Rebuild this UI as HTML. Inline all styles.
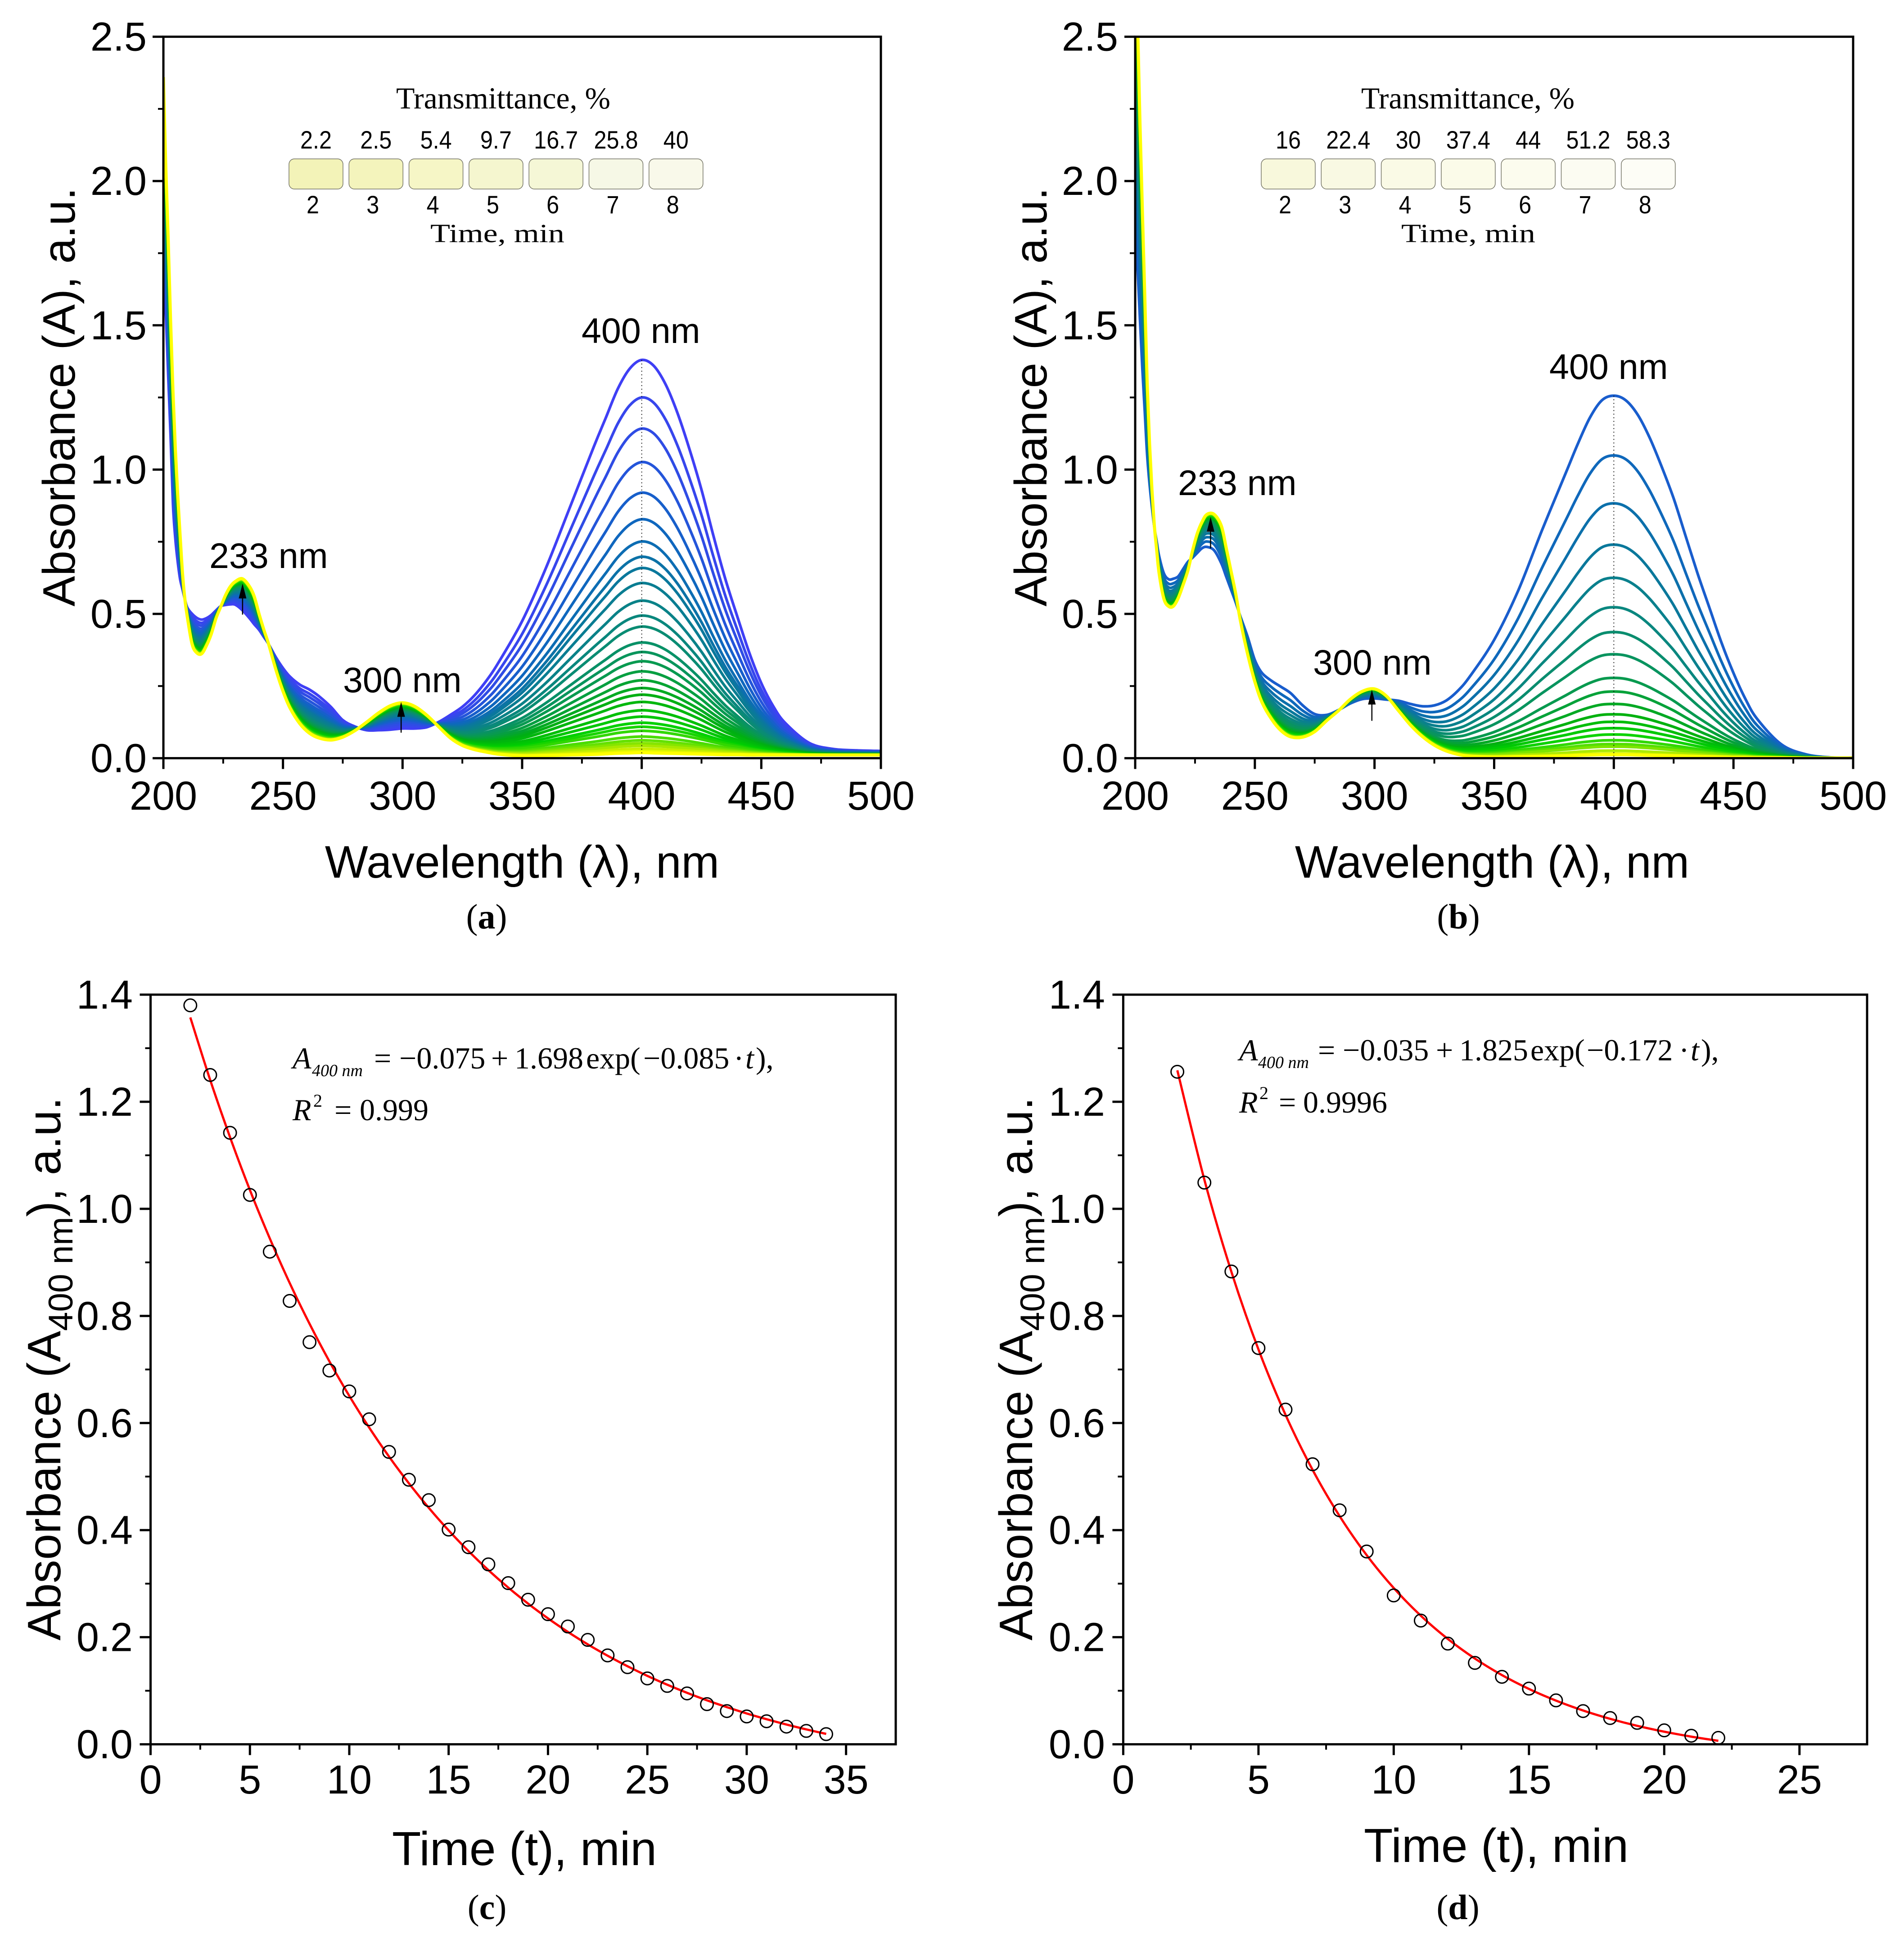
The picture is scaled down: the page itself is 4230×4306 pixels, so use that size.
<!DOCTYPE html>
<html lang="en">
<head>
<meta charset="utf-8">
<title>Absorbance spectra and kinetics</title>
<style>
html,body{margin:0;padding:0;background:#fff;}
svg{display:block;}
text{fill:#000;font-family:"Liberation Sans",Arial,sans-serif;}
.serif{font-family:"Liberation Serif","Times New Roman",serif;}
.tick{font-size:90px;}
.axt{font-size:101.5px;}
.axk{font-size:105.5px;}
.ann{font-size:79px;}
.eq{font-size:68px;font-family:"Liberation Serif","Times New Roman",serif;}
.sub{font-size:38px;}
.cap{font-size:78px;font-family:"Liberation Serif","Times New Roman",serif;}
</style>
</head>
<body>
<svg id="fig" xmlns="http://www.w3.org/2000/svg" width="4230" height="4306" viewBox="0 0 4230 4306">
<rect x="0" y="0" width="4230" height="4306" fill="#fff"/>
<defs>
<clipPath id="clip-a"><rect x="363" y="81" width="1594" height="1604"/></clipPath>
<clipPath id="clip-b"><rect x="2522" y="81" width="1595" height="1604"/></clipPath>
</defs>
<g id="panel-a"></g>
<g id="panel-b"></g>
<g id="panel-c"></g>
<g id="panel-d"></g>

<!-- Panel a text -->
<text class="axt" transform="translate(166,882) rotate(-90)" text-anchor="middle">Absorbance (A), a.u.</text>
<text class="axt" x="1160" y="1950" text-anchor="middle">Wavelength (λ), nm</text>
<text class="ann" x="465" y="1262">233 nm</text>
<text class="ann" x="762" y="1538">300 nm</text>
<text class="ann" x="1292" y="762">400 nm</text>
<text class="serif" font-size="68" x="880" y="241" textLength="476" lengthAdjust="spacingAndGlyphs">Transmittance, %</text>
<text class="serif" font-size="58" x="956" y="538" textLength="298" lengthAdjust="spacingAndGlyphs">Time, min</text>
<text class="cap" x="1081" y="2063" text-anchor="middle">(<tspan font-weight="bold">a</tspan>)</text>

<!-- Panel b text -->
<text class="axt" transform="translate(2325,882) rotate(-90)" text-anchor="middle">Absorbance (A), a.u.</text>
<text class="axt" x="3315" y="1950" text-anchor="middle">Wavelength (λ), nm</text>
<text class="ann" x="2617" y="1100">233 nm</text>
<text class="ann" x="2917" y="1499">300 nm</text>
<text class="ann" x="3442" y="842">400 nm</text>
<text class="serif" font-size="68" x="3024" y="241" textLength="474" lengthAdjust="spacingAndGlyphs">Transmittance, %</text>
<text class="serif" font-size="58" x="3113" y="538" textLength="298" lengthAdjust="spacingAndGlyphs">Time, min</text>
<text class="cap" x="3240" y="2063" text-anchor="middle">(<tspan font-weight="bold">b</tspan>)</text>

<!-- Panel c text -->
<text transform="translate(134,3645) rotate(-90)" font-size="104">Absorbance (A<tspan font-size="76" dy="27">400 nm</tspan><tspan dy="-27">), a.u.</tspan></text>
<text class="axk" x="1165" y="4144" text-anchor="middle">Time (t), min</text>
<text class="eq" y="2374"><tspan x="650" font-style="italic">A</tspan><tspan x="693" y="2391" class="sub" font-style="italic">400 nm</tspan><tspan x="831" y="2374">=</tspan><tspan x="887">−0.075</tspan><tspan x="1091">+</tspan><tspan x="1143">1.698</tspan><tspan x="1302">exp(</tspan><tspan x="1429">−0.085</tspan><tspan x="1630">·</tspan><tspan x="1656" font-style="italic">t</tspan><tspan x="1679">),</tspan></text>
<text class="eq" y="2489"><tspan x="650" font-style="italic">R</tspan><tspan x="696" y="2459" font-size="40">2</tspan><tspan x="743" y="2489">=</tspan><tspan x="799">0.999</tspan></text>
<text class="cap" x="1082" y="4264" text-anchor="middle">(<tspan font-weight="bold">c</tspan>)</text>

<!-- Panel d text -->
<text transform="translate(2293,3645) rotate(-90)" font-size="104">Absorbance (A<tspan font-size="76" dy="27">400 nm</tspan><tspan dy="-27">), a.u.</tspan></text>
<text class="axk" x="3324" y="4137" text-anchor="middle">Time (t), min</text>
<text class="eq" y="2356"><tspan x="2753" font-style="italic">A</tspan><tspan x="2795" y="2373" class="sub" font-style="italic">400 nm</tspan><tspan x="2928" y="2356">=</tspan><tspan x="2983">−0.035</tspan><tspan x="3190">+</tspan><tspan x="3242">1.825</tspan><tspan x="3400">exp(</tspan><tspan x="3525">−0.172</tspan><tspan x="3730">·</tspan><tspan x="3756" font-style="italic">t</tspan><tspan x="3779">),</tspan></text>
<text class="eq" y="2472"><tspan x="2753" font-style="italic">R</tspan><tspan x="2798" y="2442" font-size="40">2</tspan><tspan x="2841" y="2472">=</tspan><tspan x="2895">0.9996</tspan></text>
<text class="cap" x="3239" y="4264" text-anchor="middle">(<tspan font-weight="bold">d</tspan>)</text>
</svg>

<script>
// ---- Shared axis labels ----
const spectraXTicks = [200, 250, 300, 350, 400, 450, 500];
const spectraYTicks = ['0.0', '0.5', '1.0', '1.5', '2.0', '2.5'];
const kineticsYTicks = ['0.0', '0.2', '0.4', '0.6', '0.8', '1.0', '1.2', '1.4'];
const kineticsXTicksC = [0, 5, 10, 15, 20, 25, 30, 35];
const kineticsXTicksD = [0, 5, 10, 15, 20, 25];

// ---- Spectra (panels a, b): wavelength grid and end spectra ----
const wavelengths = [200,201,202,203,204,205,206,207,208,209,210,212,214,216,218,220,222,224,226,228,230,233,236,238,240,242,244,247,250,253,257,261,265,270,275,280,285,290,295,300,305,310,315,320,325,330,335,340,350,360,370,380,385,390,395,400,405,410,415,420,425,430,435,440,445,450,455,460,470,480,490,500];
const firstSpectrumA = [1.75,1.55,1.33,1.12,.88,.76,.68,.62,.585,.55,.522,.50,.486,.48,.485,.496,.512,.527,.531,.533,.532,.513,.485,.464,.445,.42,.395,.35,.312,.282,.255,.238,.215,.178,.132,.11,.097,.097,.099,.103,.103,.107,.125,.15,.178,.217,.268,.33,.475,.66,.87,1.08,1.18,1.28,1.35,1.38,1.36,1.295,1.195,1.07,.93,.77,.62,.49,.365,.26,.18,.122,.053,.032,.027,.025];
const lastSpectrumA = [2.36,2.05,1.8,1.52,1.27,1.07,.91,.77,.64,.55,.49,.395,.365,.362,.39,.43,.485,.525,.565,.595,.612,.622,.595,.56,.50,.445,.395,.308,.232,.173,.12,.087,.07,.063,.073,.095,.125,.157,.182,.192,.18,.15,.11,.07,.044,.03,.021,.014,.008,.009,.011,.013,.015,.017,.018,.019,.018,.017,.016,.015,.014,.013,.012,.012,.011,.011,.011,.011,.011,.011,.011,.011];
const firstSpectrumB = [1.9,1.7,1.52,1.35,1.2,1.05,.95,.87,.8,.75,.7,.64,.62,.622,.63,.655,.68,.695,.712,.728,.732,.72,.675,.63,.585,.54,.49,.42,.34,.295,.268,.247,.225,.183,.153,.15,.167,.19,.205,.207,.203,.199,.188,.18,.183,.2,.235,.285,.41,.58,.79,.99,1.09,1.18,1.24,1.256,1.24,1.19,1.11,1.01,.9,.77,.64,.52,.4,.295,.205,.135,.048,.014,.003,.002];
const lastSpectrumB = [2.9,2.55,2.2,1.9,1.6,1.3,1.09,.93,.806,.72,.64,.552,.526,.527,.555,.6,.65,.72,.78,.82,.845,.845,.805,.73,.65,.57,.475,.36,.265,.193,.135,.095,.074,.073,.092,.13,.165,.205,.232,.24,.215,.165,.115,.075,.045,.025,.013,.007,.004,.005,.006,.008,.01,.011,.012,.012,.012,.011,.01,.009,.008,.007,.006,.005,.004,.003,.003,.002,.002,.001,.001,.001];

// ---- Kinetics (panels c, d) ----
const timesC = [2,3,4,5,6,7,8,9,10,11,12,13,14,15,16,17,18,19,20,21,22,23,24,25,26,27,28,29,30,31,32,33,34];
const absorbanceC = [1.38,1.25,1.142,1.026,.92,.828,.751,.698,.659,.607,.546,.494,.456,.401,.368,.336,.301,.27,.243,.22,.195,.166,.144,.123,.109,.095,.075,.062,.052,.043,.033,.025,.019];
const fitC = [1.3575,1.2408,1.1337,1.0351,.9447,.8616,.7853,.7151,.6507,.5916,.5373,.4874,.4416,.3995,.3608,.3253,.2927,.2627,.2352,.2099,.1867,.1654,.1458,.1278,.1113,.0961,.0821,.0694,.0576,.0468,.0369,.0278,.0194];
const timesD = [2,3,4,5,6,7,8,9,10,11,12,13,14,15,16,17,18,19,20,21,22];
const absorbanceD = [1.256,1.049,.883,.74,.625,.523,.437,.36,.278,.231,.188,.152,.126,.104,.082,.062,.049,.04,.026,.016,.012];
const fitD = [1.2587,1.0543,.8822,.7373,.6153,.5126,.4261,.3532,.2919,.2402,.1968,.1601,.1293,.1034,.0815,.0631,.0476,.0345,.0235,.0143,.0065];

// ---- Insets ----
const insetTimes = ['2','3','4','5','6','7','8'];
const transmittanceA = ['2.2','2.5','5.4','9.7','16.7','25.8','40'];
const transmittanceB = ['16','22.4','30','37.4','44','51.2','58.3'];
const swatchColorsA = ['#f3f3b8','#f4f4bc','#f6f6c6','#f5f6cf','#f5f7d6','#f6f8e6','#f9f9ea'];
const swatchColorsB = ['#f8f8dc','#f9f9e3','#fafae6','#fbfbe9','#fcfcee','#fcfcf2','#fdfdf6'];

// ---- Colour ramp (blue > teal > green > yellow) ----
const rampStops = [0,.08,.14,.25,.36,.47,.6,.72,.84,.93,1];
const rampColors = ['#3f3ff5','#2a50e0','#1064c4','#0a789c','#0a8a78','#089a50','#00b010','#00d000','#60e000','#c0ec00','#ffff00'];

const SVGNS = 'http://www.w3.org/2000/svg';
function mk(parent, tag, attrs, txt) {
  const el = document.createElementNS(SVGNS, tag);
  for (const k in attrs) el.setAttribute(k, attrs[k]);
  if (txt !== undefined) el.textContent = txt;
  parent.appendChild(el);
  return el;
}
function hex(c) { return [1, 3, 5].map(i => parseInt(c.substr(i, 2), 16)); }
function ramp(f) {
  let i = 0;
  while (i < rampStops.length - 2 && f > rampStops[i + 1]) i++;
  const t = Math.min(1, Math.max(0, (f - rampStops[i]) / (rampStops[i + 1] - rampStops[i])));
  const a = hex(rampColors[i]), b = hex(rampColors[i + 1]);
  return 'rgb(' + a.map((v, k) => Math.round(v + (b[k] - v) * t)).join(',') + ')';
}
function smoothPath(pts) {
  let d = 'M' + pts[0][0].toFixed(1) + ' ' + pts[0][1].toFixed(1);
  for (let i = 0; i < pts.length - 1; i++) {
    const p0 = pts[Math.max(0, i - 1)], p1 = pts[i], p2 = pts[i + 1], p3 = pts[Math.min(pts.length - 1, i + 2)];
    const c1x = p1[0] + (p2[0] - p0[0]) / 6, c1y = p1[1] + (p2[1] - p0[1]) / 6;
    const c2x = p2[0] - (p3[0] - p1[0]) / 6, c2y = p2[1] - (p3[1] - p1[1]) / 6;
    d += 'C' + c1x.toFixed(1) + ' ' + c1y.toFixed(1) + ' ' + c2x.toFixed(1) + ' ' + c2y.toFixed(1) + ' ' + p2[0].toFixed(1) + ' ' + p2[1].toFixed(1);
  }
  return d;
}
function scales(ax) {
  return {
    x: v => ax.x0 + (v - ax.xmin) / (ax.xmax - ax.xmin) * (ax.x1 - ax.x0),
    y: v => ax.y0 - (v - ax.ymin) / (ax.ymax - ax.ymin) * (ax.y0 - ax.y1)
  };
}
function drawAxes(g, ax, s) {
  const frame = mk(g, 'rect', {x: ax.x0, y: ax.y1, width: ax.x1 - ax.x0, height: ax.y0 - ax.y1, fill: 'none', stroke: '#000', 'stroke-width': 5});
  
  
  ax.xTicks.forEach((v, i) => {
    const t = mk(g, 'line', {x1: s.x(+v), x2: s.x(+v), y1: ax.y0, y2: ax.y0 + ax.major, stroke: '#000', 'stroke-width': 5});
    
    
    const l = mk(g, 'text', {x: s.x(+v), y: ax.xLabelY, 'text-anchor': 'middle', class: 'tick'}, String(v));
    
    
    const mv = +v + ax.xStep / 2;
    if (mv < ax.xmax) {
      const m = mk(g, 'line', {x1: s.x(mv), x2: s.x(mv), y1: ax.y0, y2: ax.y0 + ax.major / 2, stroke: '#000', 'stroke-width': 4});
      
      
    }
  });
  ax.yTicks.forEach((v, i) => {
    const t = mk(g, 'line', {x1: ax.x0 - ax.major, x2: ax.x0, y1: s.y(+v), y2: s.y(+v), stroke: '#000', 'stroke-width': 5});
    
    
    const l = mk(g, 'text', {x: ax.yLabelX, y: s.y(+v) + 31, 'text-anchor': 'end', class: 'tick'}, v);
    
    
    const mv = +v + ax.yStep / 2;
    if (mv < ax.ymax) {
      const m = mk(g, 'line', {x1: ax.x0 - ax.major / 2, x2: ax.x0, y1: s.y(mv), y2: s.y(mv), stroke: '#000', 'stroke-width': 4});
      
      
    }
  });
}
function drawSpectra(g, ax, s, first, last, peaks, clipId, rampStart) {
  const n = peaks.length, pf = peaks[0], pl = peaks[n - 1];
  const wrap = mk(g, 'g', {'clip-path': 'url(#' + clipId + ')'});
  
  
  peaks.forEach((p, i) => {
    const w = (p - pl) / (pf - pl);
    const pts = wavelengths.map((lam, k) => [s.x(lam), s.y(last[k] + w * (first[k] - last[k]))]);
    const f = rampStart + (1 - rampStart) * i / (n - 1);
    const line = mk(wrap, 'path', {d: smoothPath(pts), fill: 'none', stroke: ramp(f), 'stroke-width': i === n - 1 ? 7 : 6, 'stroke-linejoin': 'round'});
    
    
  });
}
function drawPeakLine(g, s, lam, top) {
  const d = mk(g, 'line', {x1: s.x(lam), x2: s.x(lam), y1: s.y(top), y2: s.y(0), stroke: '#111', 'stroke-width': 2, 'stroke-dasharray': '2 6'});
  
  
}
function drawArrow(g, s, lam, from, to) {
  const x = s.x(lam), yA = s.y(from), yB = s.y(to);
  const shaft = mk(g, 'line', {x1: x, x2: x, y1: yA, y2: yB + 20, stroke: '#000', 'stroke-width': 2.5});
  
  
  const head = mk(g, 'polygon', {points: x + ',' + yB + ' ' + (x - 8.5) + ',' + (yB + 33) + ' ' + (x + 8.5) + ',' + (yB + 33), fill: '#000'});
  
  
}
function drawInset(g, startX, values, colors) {
  const pitch = 133.3, w = 120;
  colors.forEach((c, i) => {
    const x = startX + i * pitch;
    const sw = mk(g, 'rect', {x: x, y: 353, width: w, height: 67, rx: 12, ry: 12, fill: c, stroke: '#777768', 'stroke-width': 1.5});
    
    
    const top = mk(g, 'text', {transform: 'translate(' + (x + w / 2) + ',330) scale(.9,1)', 'text-anchor': 'middle', 'font-size': 56}, values[i]);
    
    
    const bot = mk(g, 'text', {transform: 'translate(' + (x + w / 2 - 7) + ',474) scale(.9,1)', 'text-anchor': 'middle', 'font-size': 56}, insetTimes[i]);
    
    
  });
}
function drawKinetics(g, s, times, values, fit) {
  const curve = mk(g, 'path', {d: smoothPath(times.map((t, i) => [s.x(t), s.y(fit[i])])), fill: 'none', stroke: '#f00', 'stroke-width': 5});
  
  
  times.forEach((t, i) => {
    const c = mk(g, 'circle', {cx: s.x(t), cy: s.y(values[i]), r: 14, fill: 'none', stroke: '#000', 'stroke-width': 3});
    
    
  });
}

// ---- Panel a ----
const axA = {x0: 363, x1: 1957, y0: 1684.6, y1: 81.6, xmin: 200, xmax: 500, ymin: 0, ymax: 2.5, xStep: 50, yStep: .5, major: 24, xTicks: spectraXTicks, yTicks: spectraYTicks, xLabelY: 1799, yLabelX: 326};
const sA = scales(axA), gA = document.getElementById('panel-a');
drawSpectra(gA, axA, sA, firstSpectrumA, lastSpectrumA, absorbanceC, 'clip-a', 0);
drawPeakLine(gA, sA, 400, absorbanceC[0]);
drawArrow(gA, sA, 233.1, .4975, .605);
drawArrow(gA, sA, 299.4, .0885, .195);
drawAxes(gA, axA, sA);
drawInset(gA, 642, transmittanceA, swatchColorsA);

// ---- Panel b ----
const axB = {x0: 2522, x1: 4117, y0: 1684.6, y1: 81.6, xmin: 200, xmax: 500, ymin: 0, ymax: 2.5, xStep: 50, yStep: .5, major: 24, xTicks: spectraXTicks, yTicks: spectraYTicks, xLabelY: 1799, yLabelX: 2484};
const sB = scales(axB), gB = document.getElementById('panel-b');
drawSpectra(gB, axB, sB, firstSpectrumB, lastSpectrumB, absorbanceD, 'clip-b', .12);
drawPeakLine(gB, sB, 400, absorbanceD[0]);
drawArrow(gB, sB, 231.5, .727, .836);
drawArrow(gB, sB, 298.9, .1295, .2375);
drawAxes(gB, axB, sB);
drawInset(gB, 2802, transmittanceB, swatchColorsB);

// ---- Panel c ----
const axC = {x0: 334.5, x1: 1990, y0: 3875.6, y1: 2210, xmin: 0, xmax: 37.5, ymin: 0, ymax: 1.4, xStep: 5, yStep: .2, major: 24, xTicks: kineticsXTicksC, yTicks: kineticsYTicks, xLabelY: 3985, yLabelX: 295};
const sC = scales(axC), gC = document.getElementById('panel-c');
drawKinetics(gC, sC, timesC, absorbanceC, fitC);
drawAxes(gC, axC, sC);

// ---- Panel d ----
const axD = {x0: 2495.4, x1: 4148, y0: 3875.6, y1: 2210, xmin: 0, xmax: 27.5, ymin: 0, ymax: 1.4, xStep: 5, yStep: .2, major: 24, xTicks: kineticsXTicksD, yTicks: kineticsYTicks, xLabelY: 3985, yLabelX: 2455};
const sD = scales(axD), gD = document.getElementById('panel-d');
drawKinetics(gD, sD, timesD, absorbanceD, fitD);
drawAxes(gD, axD, sD);
</script>
</body>
</html>
